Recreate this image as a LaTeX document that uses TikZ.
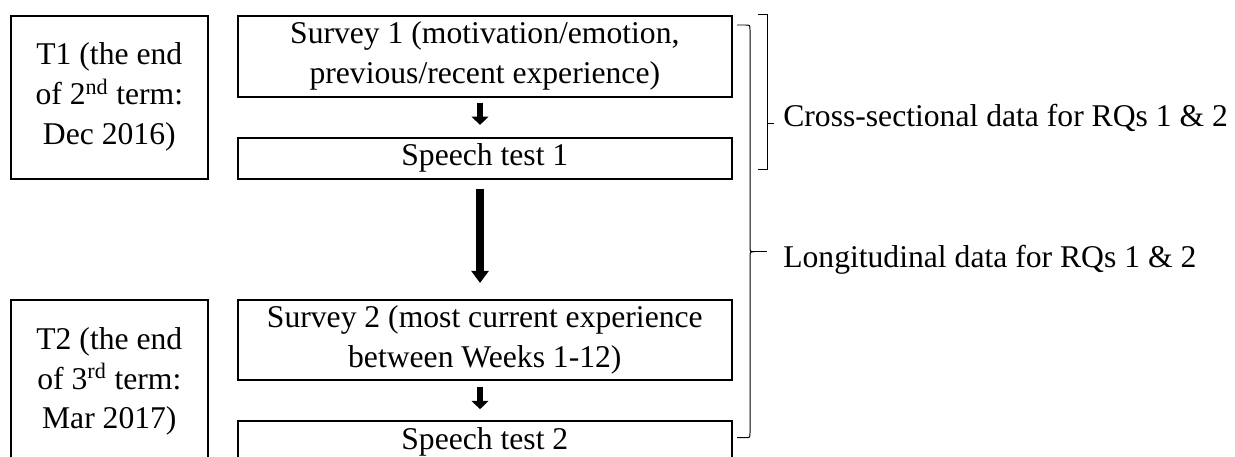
\documentclass[tikz,border=0pt]{standalone}
\usepackage{fontspec}
\setmainfont{Liberation Serif}
\usetikzlibrary{positioning, arrows.meta}

\begin{document}
\begin{tikzpicture}[
		x=0.025cm, y=-0.025cm,
		node distance=1.025cm,
		box/.style={draw, rectangle, line width=1.4pt, inner sep=0pt, outer sep=0pt, align=center, font=\fontsize{22.5}{28.4}\selectfont},
		timebox/.style={box, minimum width=4.93cm, minimum height=4.08cm},
		stepbox/.style={box, minimum width=12.34cm},
		arr/.style={-{Triangle[width=0.42cm, length=0.21cm]}, line width=0.14cm},
		bigarr/.style={-{Triangle[width=0.42cm, length=0.3cm]}, line width=0.2cm},
		brk/.style={line width=0.7pt},
		lbl/.style={anchor=base west, inner sep=0pt, font=\fontsize{22.5}{28.4}\selectfont}
		]
		\useasboundingbox (0,0) rectangle (1235,457);
		
		% 1. Time points
		\node[timebox, anchor=north west] (t1) at (10.7,15.7) {T1 (the end\\ of 2\textsuperscript{nd} term:\\ Dec 2016)};
		
		% 2. Steps at T1
		\node[stepbox, minimum height=2.025cm] (s1) [right=0.75cm of t1.north east, anchor=north west] {Survey 1 (motivation/emotion,\\ previous/recent experience)};
		\node[stepbox, minimum height=1.03cm] (sp1) [below=of s1] {Speech test 1};
		
		% 3. Steps at T2
		\node[stepbox, minimum height=2cm] (s2) [below=3.02cm of sp1] {Survey 2 (most current experience\\ between Weeks 1-12)};
		\node[stepbox, minimum height=1.03cm] (sp2) [below=of s2] {Speech test 2};
		\node[timebox, anchor=north west] (t2) at (t1.west |- s2.north) {T2 (the end\\ of 3\textsuperscript{rd} term:\\ Mar 2017)};
		
		% Arrows
		\draw[arr, shorten <=0.15cm, shorten >=0.32cm] ([xshift=-0.12cm]s1.south) -- ([xshift=-0.12cm]sp1.north);
		\draw[bigarr, shorten <=0.25cm, shorten >=0.42cm] ([xshift=-0.12cm]sp1.south) -- ([xshift=-0.12cm]s2.north);
		\draw[arr, shorten <=0.18cm, shorten >=0.29cm] ([xshift=-0.12cm]s2.south) -- ([xshift=-0.12cm]sp2.north);
		
		% 4. Brackets
		\coordinate (cs) at (767,123);
		\coordinate (lg) at (750,251.7);
		\draw[brk] (758,14) -- (767,14) -- (767,169) -- (758,169);
		\draw[brk] (cs) -- ++(7,0);
		\draw[brk] (737,25) -- (745,25) .. controls (750,25) .. (750,30) -- (750,246.7)
			.. controls (750,251.7) .. (755,251.7) .. controls (750,251.7) .. (750,256.7)
			-- (750,432.7) .. controls (750,437.7) .. (745,437.7) -- (737,437.7);
		\draw[brk] (755,251.7) -- ([xshift=0.42cm]lg);
		
		\node[lbl] (cross) at (783,126.7) {Cross-sectional data for RQs 1 \& 2};
		\node[lbl] (longi) at (783,268) {Longitudinal data for RQs 1 \& 2};
		
	\end{tikzpicture}
\end{document}
